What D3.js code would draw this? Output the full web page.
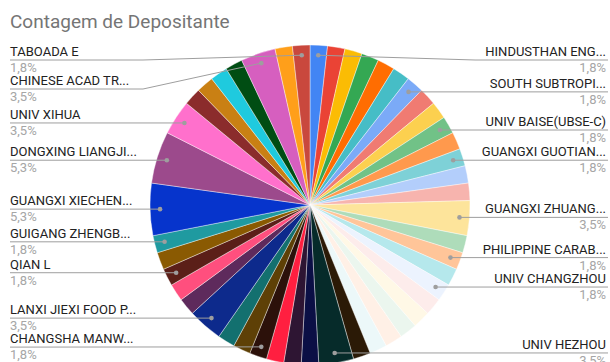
<!DOCTYPE html>
<html>
<head>
<meta charset="utf-8">
<script src="https://cdn.jsdelivr.net/npm/d3@7"></script>
<style>
  html, body { margin: 0; padding: 0; background: #fff; }
  svg { display: block; }
</style>
</head>
<body>
<svg id="chart" width="610" height="362"></svg>
<script>
// ---- data (clockwise from 12 o'clock) ----
const names = [
  "HINDUSTHAN ENG...", null, null, null, null, null, "SOUTH SUBTROPI...", null, null, "UNIV BAISE(UBSE-C)",
  null, "GUANGXI GUOTIAN...", null, null, "GUANGXI ZHUANG...", null, "PHILIPPINE CARAB...", null, "UNIV CHANGZHOU", null,
  null, null, null, null, null, "UNIV HEZHOU", null, null, null, "CHANGSHA MANW...",
  null, null, "LANXI JIEXI FOOD P...", null, null, "QIAN L", null, "GUIGANG ZHENGB...", "GUANGXI XIECHEN...", "DONGXING LIANGJI...",
  "UNIV XIHUA", null, null, null, null, "CHINESE ACAD TR...", null, "TABOADA E"
];
const counts = [
  1, 1, 1, 1, 1, 1, 1, 1, 1, 1,
  1, 1, 1, 1, 2, 1, 1, 1, 1, 1,
  1, 1, 1, 1, 1, 2, 1, 1, 1, 1,
  1, 1, 2, 1, 1, 1, 1, 1, 3, 3,
  2, 1, 1, 1, 1, 2, 1, 1
];
const colors = [
  "#4285f4", "#ea4335", "#fbbc04", "#34a853", "#ff6d01", "#46bdc6", "#7baaf7", "#f07b72", "#fcd04f", "#71c287",
  "#ff994d", "#7ed1d7", "#b3cefb", "#f7b4ae", "#fde49b", "#aedcba", "#ffc599", "#b5e8ec", "#ecf3fe", "#fdeceb",
  "#fff8e6", "#ebf6ee", "#fff0e6", "#ecf8f9", "#2b1a06", "#062b2a", "#0b0f45", "#2e1533", "#ff1f40", "#2c110a",
  "#5e4006", "#13706f", "#0d2a8c", "#5e2a5c", "#ff4f7e", "#5b1f18", "#8a5a02", "#1f9aa0", "#0634cc", "#9c4a8c",
  "#ff70cc", "#8b2c2c", "#c98014", "#1fcade", "#004d13", "#d65fbf", "#ff9f1a", "#c9483d"
];
const title = "Contagem de Depositante";

// ---- layout ----
const W = 610, H = 362;
const cx = 310, cy = 205, R = 160, rDot = 150;
const fontFamily = "Roboto, 'Liberation Sans', Arial, sans-serif";
const svg = d3.select("#chart");
svg.append("rect").attr("width", W).attr("height", H).attr("fill", "#fff");

const total = d3.sum(counts);
const data = counts.map((v, i) => ({ name: names[i], value: v, color: colors[i], i }));
const pie = d3.pie().sort(null).value(d => d.value);
const arcs = pie(data);
const arc = d3.arc().innerRadius(0).outerRadius(R);

const g = svg.append("g").attr("transform", `translate(${cx},${cy})`);
g.selectAll("path").data(arcs).join("path")
  .attr("d", arc)
  .attr("fill", d => d.data.color)
  .attr("stroke", "#fff")
  .attr("stroke-width", 0.4);

// title
svg.append("text")
  .attr("x", 10).attr("y", 28)
  .attr("font-family", fontFamily)
  .attr("font-size", 19)
  .attr("fill", "#757575")
  .text(title);

// labels
const pctFmt = v => d3.format(".1%")(v).replace(".", ",");
const labeled = arcs.filter(a => a.data.name !== null).map(a => {
  const mid = (a.startAngle + a.endAngle) / 2;
  const dx = cx + rDot * Math.sin(mid);
  const dy = cy - rDot * Math.cos(mid);
  return { a, mid, dx, dy, side: mid < Math.PI ? "right" : "left", lineY: dy };
});
const minY = 60, gap = 29;
["left", "right"].forEach(side => {
  const items = labeled.filter(l => l.side === side).sort((p, q) => p.dy - q.dy);
  let prev = -Infinity;
  items.forEach(l => {
    l.lineY = Math.max(l.dy, minY, prev + gap);
    prev = l.lineY;
  });
});

const lg = svg.append("g");
labeled.forEach(l => {
  const left = l.side === "left";
  const bendX = left ? 143 : 475;
  const edgeX = left ? 10 : 608;
  const pts = [[l.dx, l.dy], [bendX, l.lineY], [edgeX, l.lineY]];
  if (Math.abs(l.dy - l.lineY) < 0.5) pts.splice(1, 1);
  lg.append("path")
    .attr("d", d3.line()(pts))
    .attr("fill", "none")
    .attr("stroke", "#9e9e9e")
    .attr("stroke-width", 1);
  lg.append("circle")
    .attr("cx", l.dx).attr("cy", l.dy).attr("r", 2.3)
    .attr("fill", "#9e9e9e");
  const tx = left ? 10 : 606;
  const anchor = left ? "start" : "end";
  lg.append("text")
    .attr("x", tx).attr("y", l.lineY - 4)
    .attr("text-anchor", anchor)
    .attr("font-family", fontFamily)
    .attr("font-size", 13)
    .attr("fill", "#222")
    .text(l.a.data.name);
  lg.append("text")
    .attr("x", tx).attr("y", l.lineY + 12)
    .attr("text-anchor", anchor)
    .attr("font-family", fontFamily)
    .attr("font-size", 13)
    .attr("fill", "#a6a6a6")
    .text(pctFmt(l.a.data.value / total));
});
</script>
</body>
</html>
